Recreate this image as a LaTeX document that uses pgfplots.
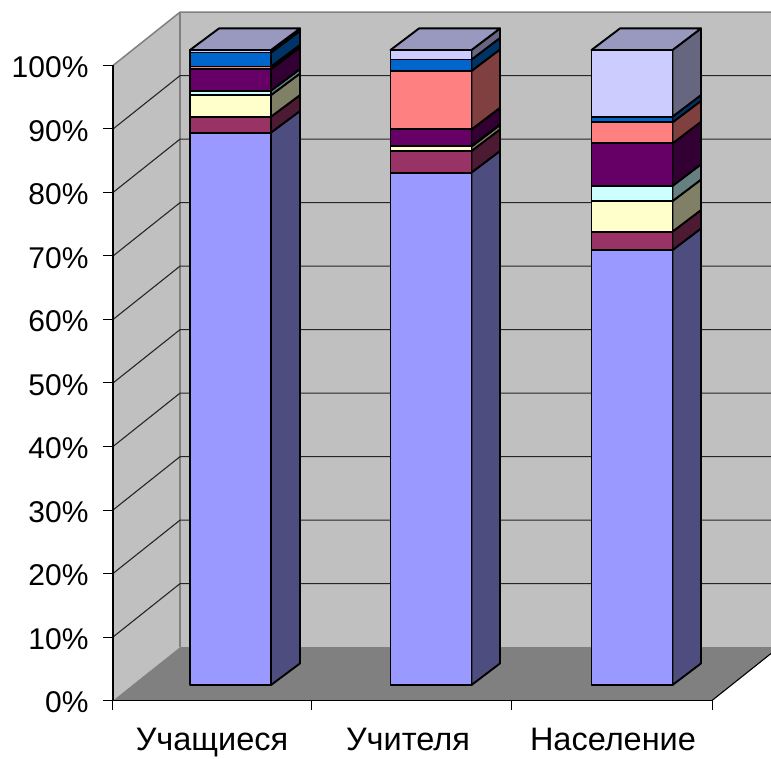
\documentclass[border=0pt]{standalone}
\usepackage{fontspec}
\setmainfont{Liberation Sans}
\usepackage{pgfplots}
\pgfplotsset{compat=1.18}
\definecolor{cA}{HTML}{9999FF}\definecolor{sA}{HTML}{4D4D80}
\definecolor{cB}{HTML}{993366}\definecolor{sB}{HTML}{4D1A33}
\definecolor{cC}{HTML}{FFFFCC}\definecolor{sC}{HTML}{808066}
\definecolor{cD}{HTML}{CCFFFF}\definecolor{sD}{HTML}{668080}
\definecolor{cE}{HTML}{660066}\definecolor{sE}{HTML}{330033}
\definecolor{cF}{HTML}{FF8080}\definecolor{sF}{HTML}{804040}
\definecolor{cG}{HTML}{0066CC}\definecolor{sG}{HTML}{003366}
\definecolor{cH}{HTML}{CCCCFF}\definecolor{sH}{HTML}{666680}
\definecolor{tH}{HTML}{9999BF}
\definecolor{wall}{HTML}{C0C0C0}
\definecolor{flr}{HTML}{808080}
\pgfplotsset{
  common/.style={x=1pt,y=6.35pt,xmin=113,xmax=712,clip=false,at={(0,0)},anchor=south west},
  face/.style={line width=1.9pt,draw=black,line join=round}
}
\pgfplotstableread{
x     A    B   C   D   E   F   G   H
230.7 87.0 2.5 3.4 0.7 3.4 0.4 2.2 0.4
431   80.7 3.4 0.7 0.1 2.6 9.2 1.8 1.5
632   68.5 2.9 4.8 2.4 6.7 3.3 0.9 10.5
}\stackdata
\begin{document}
\begin{tikzpicture}
\path[use as bounding box] (-113pt,-57.5pt) rectangle (658pt,700.5pt);
% ---- walls, floor, axes
\begin{axis}[common,ymin=0,ymax=100,
  axis x line=bottom,axis y line=left,axis line style={-,black,line width=1.1pt},
  axis on top,
  ytick={0,10,...,100},
  yticklabels={0\%,10\%,20\%,30\%,40\%,50\%,60\%,70\%,80\%,90\%,100\%},
  xtick={113,311,511,712},xticklabels={},
  extra x ticks={212,408,613},
  extra x tick labels={Учащиеся,Учителя,Население},
  extra x tick style={major tick length=0pt},
  tick style={black,line width=1pt},
  major tick length=10pt,tick align=outside,
  xticklabel style={yshift=-24pt,font=\fontsize{32.5}{34}\selectfont,text=black},
  yticklabel style={xshift=-11pt,yshift=-2pt,font=\fontsize{30}{32}\selectfont,text=black},
]
\addplot[fill=wall,draw=none] coordinates {(113,0)(180,8.4)(180,108.4)(113,100)} --cycle;
\addplot[fill=wall,draw=none] coordinates {(180,8.4)(771,8.4)(771,108.4)(180,108.4)} --cycle;
\addplot[fill=flr,draw=none] coordinates {(113,0)(712,0)(771,7.4)(771,8.4)(180,8.4)} --cycle;
\addplot[draw=flr,line width=1.5pt] coordinates {(113,100)(180,108.4)(771,108.4)};
\addplot[draw=flr,line width=1.5pt] coordinates {(180,8.4)(180,108.4)};
\addplot[draw=black,line width=1.1pt] coordinates {(712,0)(771,7.4)};
\addplot[draw=black!85,line width=1.1pt,unbounded coords=jump] coordinates {
(113,10)(180,18.4)(771,18.4)(nan,nan)
(113,20)(180,28.4)(771,28.4)(nan,nan)
(113,30)(180,38.4)(771,38.4)(nan,nan)
(113,40)(180,48.4)(771,48.4)(nan,nan)
(113,50)(180,58.4)(771,58.4)(nan,nan)
(113,60)(180,68.4)(771,68.4)(nan,nan)
(113,70)(180,78.4)(771,78.4)(nan,nan)
(113,80)(180,88.4)(771,88.4)(nan,nan)
(113,90)(180,98.4)(771,98.4)};
\end{axis}
% ---- side and top faces
\begin{axis}[common,hide axis,ymin=-2.44,ymax=97.56]
% bar 1
\addplot[face,fill=sA] coordinates {(271,0)(300,3.4)(300,90.4)(271,87)} --cycle;
\addplot[face,fill=sB] coordinates {(271,87)(300,90.4)(300,92.9)(271,89.5)} --cycle;
\addplot[face,fill=sC] coordinates {(271,89.5)(300,92.9)(300,96.3)(271,92.9)} --cycle;
\addplot[face,fill=sD] coordinates {(271,92.9)(300,96.3)(300,97)(271,93.6)} --cycle;
\addplot[face,fill=sE] coordinates {(271,93.6)(300,97)(300,100.4)(271,97)} --cycle;
\addplot[face,fill=sF] coordinates {(271,97)(300,100.4)(300,100.8)(271,97.4)} --cycle;
\addplot[face,fill=sG] coordinates {(271,97.4)(300,100.8)(300,103)(271,99.6)} --cycle;
\addplot[face,fill=sH] coordinates {(271,99.6)(300,103)(300,103.4)(271,100)} --cycle;
\addplot[face,fill=tH] coordinates {(190,100)(219,103.4)(300,103.4)(271,100)} --cycle;
% bar 2
\addplot[face,fill=sA] coordinates {(471.5,0)(500,3.4)(500,84.1)(471.5,80.7)} --cycle;
\addplot[face,fill=sB] coordinates {(471.5,80.7)(500,84.1)(500,87.5)(471.5,84.1)} --cycle;
\addplot[face,fill=sC] coordinates {(471.5,84.1)(500,87.5)(500,88.2)(471.5,84.8)} --cycle;
\addplot[face,fill=sD] coordinates {(471.5,84.8)(500,88.2)(500,88.3)(471.5,84.9)} --cycle;
\addplot[face,fill=sE] coordinates {(471.5,84.9)(500,88.3)(500,90.9)(471.5,87.5)} --cycle;
\addplot[face,fill=sF] coordinates {(471.5,87.5)(500,90.9)(500,100.1)(471.5,96.7)} --cycle;
\addplot[face,fill=sG] coordinates {(471.5,96.7)(500,100.1)(500,101.9)(471.5,98.5)} --cycle;
\addplot[face,fill=sH] coordinates {(471.5,98.5)(500,101.9)(500,103.4)(471.5,100)} --cycle;
\addplot[face,fill=tH] coordinates {(390.5,100)(419,103.4)(500,103.4)(471.5,100)} --cycle;
% bar 3
\addplot[face,fill=sA] coordinates {(672.5,0)(701,3.4)(701,71.9)(672.5,68.5)} --cycle;
\addplot[face,fill=sB] coordinates {(672.5,68.5)(701,71.9)(701,74.8)(672.5,71.4)} --cycle;
\addplot[face,fill=sC] coordinates {(672.5,71.4)(701,74.8)(701,79.6)(672.5,76.2)} --cycle;
\addplot[face,fill=sD] coordinates {(672.5,76.2)(701,79.6)(701,82)(672.5,78.6)} --cycle;
\addplot[face,fill=sE] coordinates {(672.5,78.6)(701,82)(701,88.7)(672.5,85.3)} --cycle;
\addplot[face,fill=sF] coordinates {(672.5,85.3)(701,88.7)(701,92)(672.5,88.6)} --cycle;
\addplot[face,fill=sG] coordinates {(672.5,88.6)(701,92)(701,92.9)(672.5,89.5)} --cycle;
\addplot[face,fill=sH] coordinates {(672.5,89.5)(701,92.9)(701,103.4)(672.5,100)} --cycle;
\addplot[face,fill=tH] coordinates {(591.5,100)(620,103.4)(701,103.4)(672.5,100)} --cycle;
\end{axis}
% ---- front faces
\begin{axis}[common,hide axis,ymin=-2.44,ymax=97.56,
  ybar stacked,bar width=81pt,bar shift=0pt]
\addplot[face,fill=cA] table[x=x,y=A] {\stackdata};
\addplot[face,fill=cB] table[x=x,y=B] {\stackdata};
\addplot[face,fill=cC] table[x=x,y=C] {\stackdata};
\addplot[face,fill=cD] table[x=x,y=D] {\stackdata};
\addplot[face,fill=cE] table[x=x,y=E] {\stackdata};
\addplot[face,fill=cF] table[x=x,y=F] {\stackdata};
\addplot[face,fill=cG] table[x=x,y=G] {\stackdata};
\addplot[face,fill=cH] table[x=x,y=H] {\stackdata};
\end{axis}
\end{tikzpicture}
\end{document}
